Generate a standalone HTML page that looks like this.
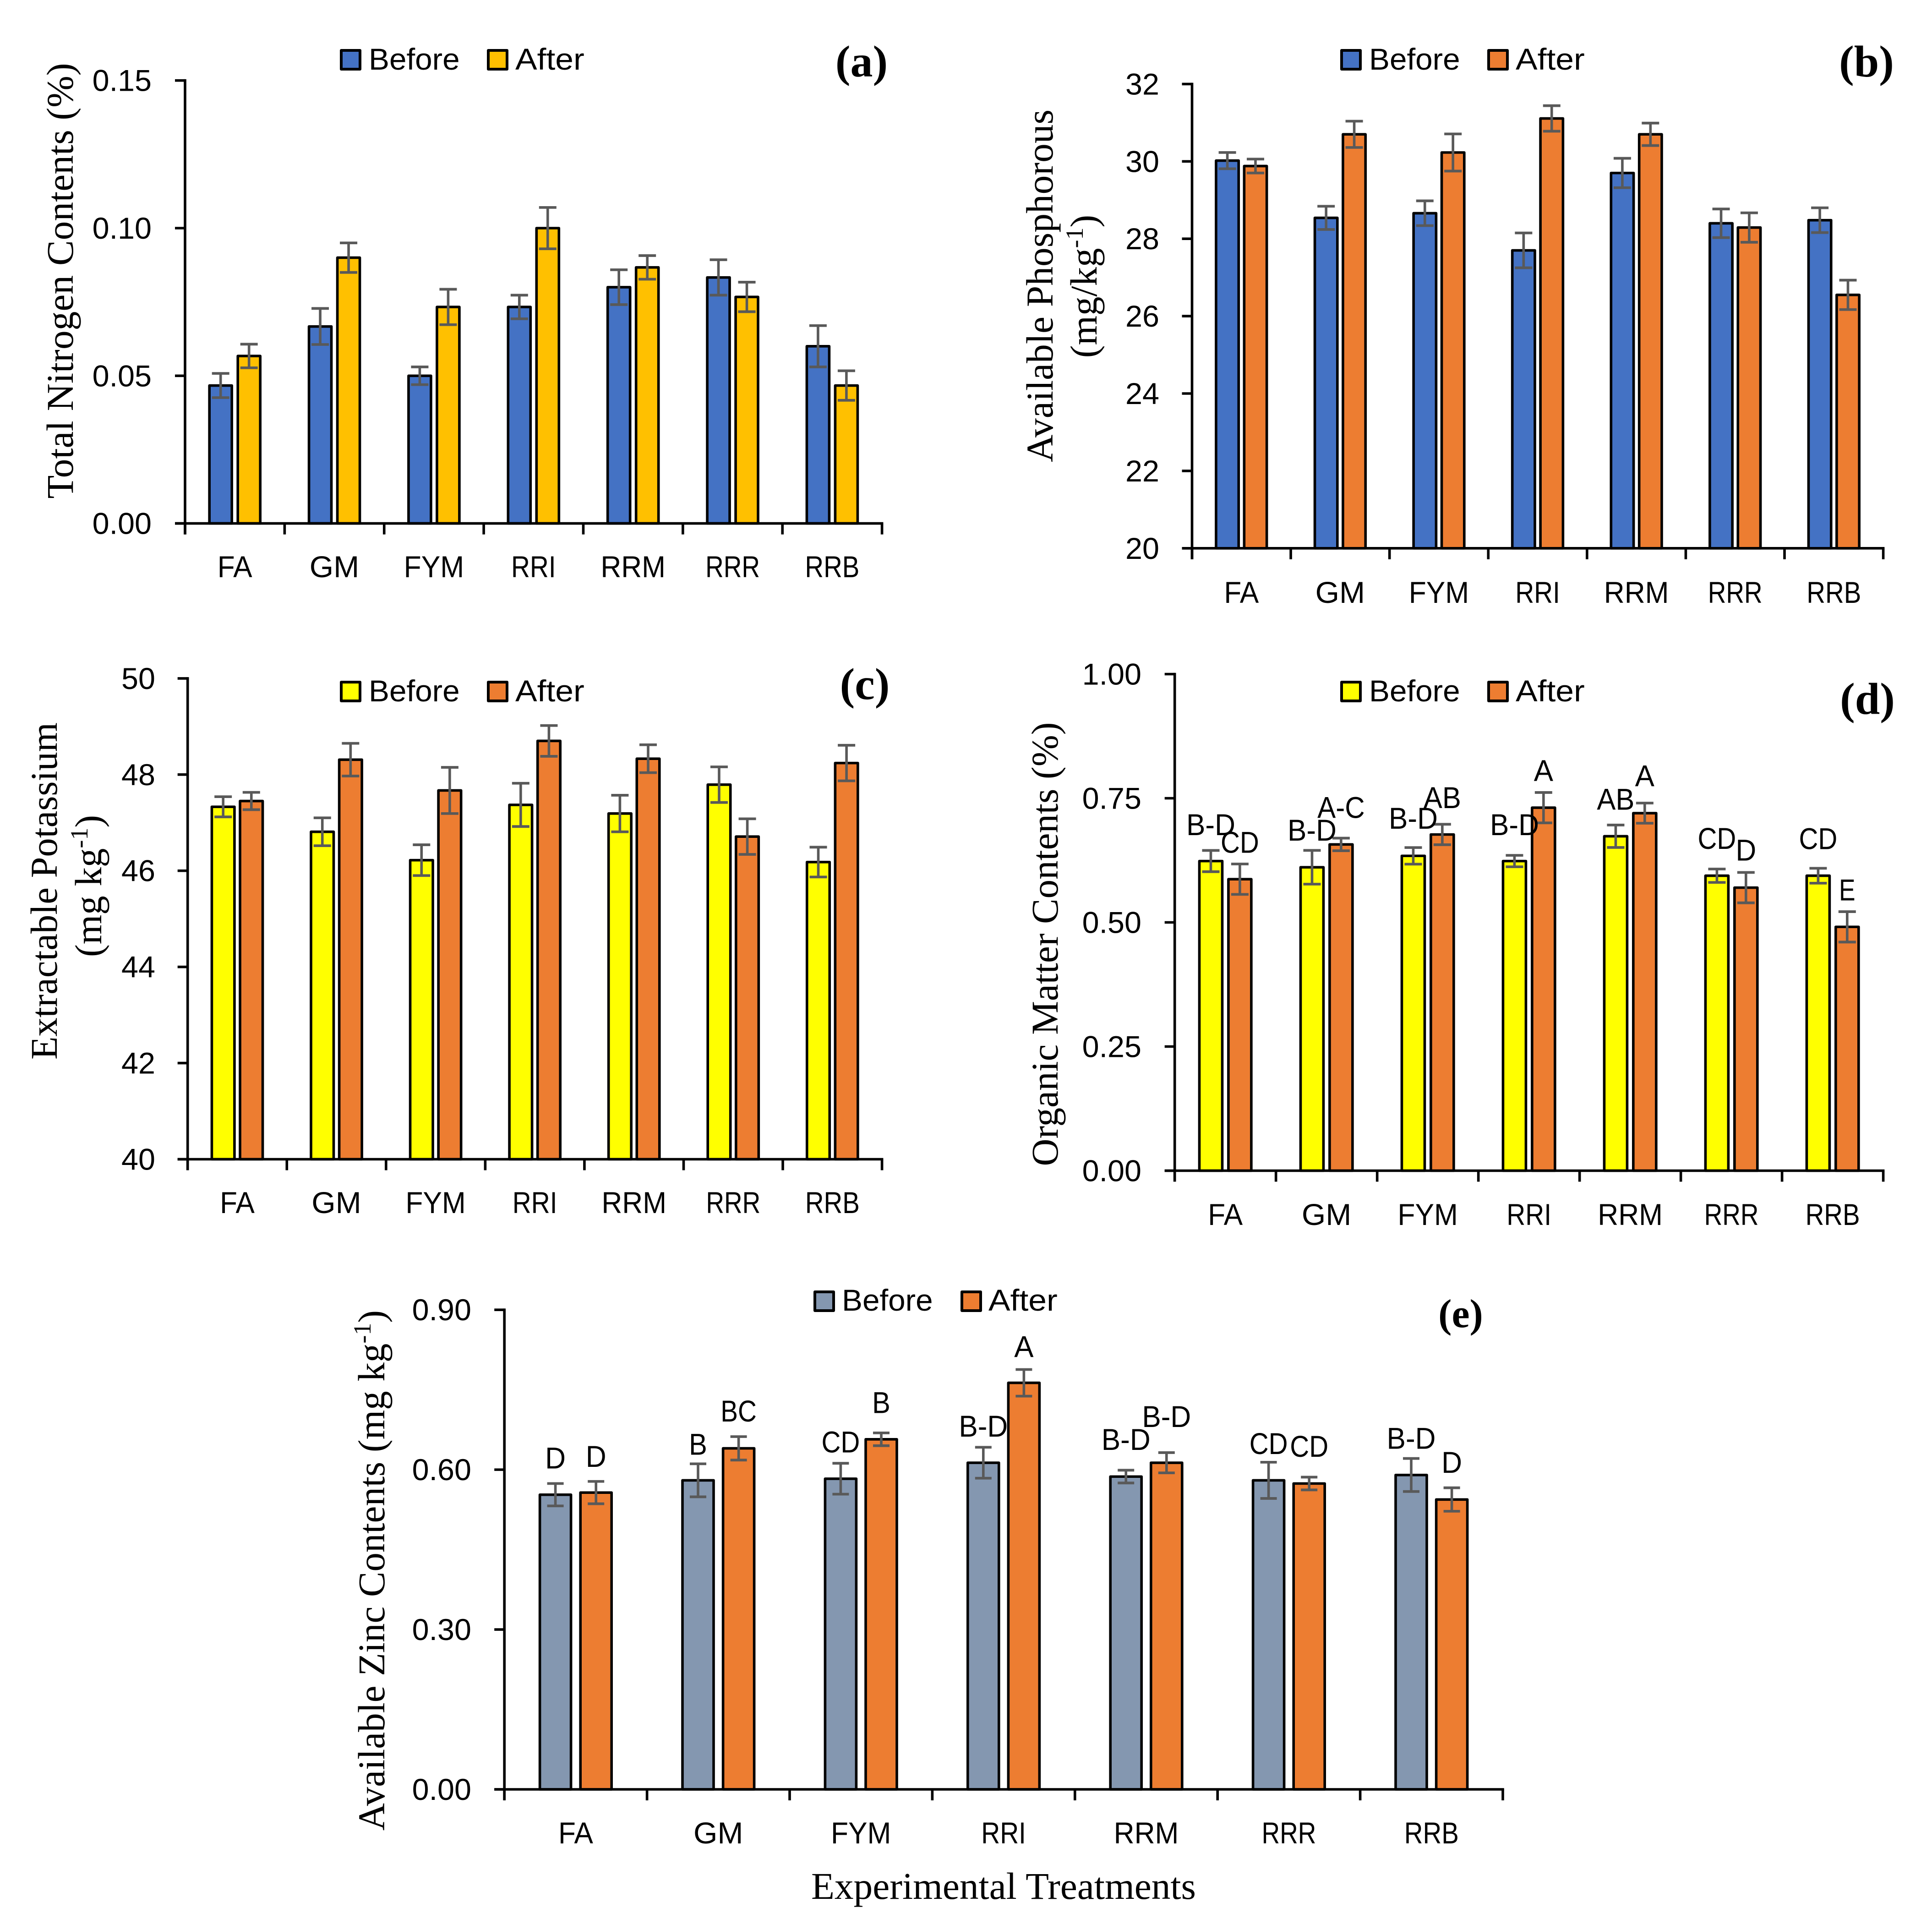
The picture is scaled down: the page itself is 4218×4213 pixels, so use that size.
<!DOCTYPE html>
<html lang="en">
<head>
<meta charset="utf-8">
<title>Soil properties before and after treatments</title>
<style>
html,body{margin:0;padding:0;background:#fff;width:4218px;height:4213px;overflow:hidden}
svg{display:block}
.serif{font-family:"Liberation Serif",serif;fill:#000}
.sans{font-family:"Liberation Sans",sans-serif;fill:#000}
</style>
</head>
<body>
<svg id="figure" xmlns="http://www.w3.org/2000/svg" width="4218" height="4213" viewBox="0 0 4218 4213">
<rect x="0" y="0" width="4218" height="4213" fill="#ffffff"/>

<text class="serif" font-size="83" text-anchor="middle" textLength="951" lengthAdjust="spacingAndGlyphs" transform="translate(159,613) rotate(-90)">Total Nitrogen Contents (%)</text>
<text class="serif" font-size="83" text-anchor="middle" textLength="770" lengthAdjust="spacingAndGlyphs" transform="translate(2298,624) rotate(-90)">Available Phosphorous</text>
<text class="serif" font-size="83" text-anchor="middle" transform="translate(2394,625) rotate(-90)">(mg/kg<tspan font-size="54" dy="-30">-1</tspan><tspan dy="30">)</tspan></text>
<text class="serif" font-size="83" text-anchor="middle" textLength="736" lengthAdjust="spacingAndGlyphs" transform="translate(124,1945) rotate(-90)">Extractable Potassium</text>
<text class="serif" font-size="83" text-anchor="middle" transform="translate(221,1934) rotate(-90)">(mg kg<tspan font-size="54" dy="-30">-1</tspan><tspan dy="30">)</tspan></text>
<text class="serif" font-size="83" text-anchor="middle" textLength="969" lengthAdjust="spacingAndGlyphs" transform="translate(2309,2061) rotate(-90)">Organic Matter Contents (%)</text>
<text class="serif" font-size="83" text-anchor="middle" transform="translate(839,3428) rotate(-90)">Available Zinc Contents (mg kg<tspan font-size="54" dy="-30">-1</tspan><tspan dy="30">)</tspan></text>
<text class="serif" font-size="83" text-anchor="middle" textLength="840" lengthAdjust="spacingAndGlyphs" x="2191" y="4145">Experimental Treatments</text>

<text class="serif" font-size="98" font-weight="bold" text-anchor="middle" x="1881" y="167">(a)</text>
<text class="serif" font-size="98" font-weight="bold" text-anchor="middle" x="4075" y="167">(b)</text>
<text class="serif" font-size="98" font-weight="bold" text-anchor="middle" x="1888" y="1526">(c)</text>
<text class="serif" font-size="98" font-weight="bold" text-anchor="middle" x="4077" y="1558">(d)</text>
<text class="serif" font-size="88" font-weight="bold" text-anchor="middle" x="3189" y="2897">(e)</text>
</svg>

<script>
const categories = ['FA', 'GM', 'FYM', 'RRI', 'RRM', 'RRR', 'RRB'];

const nitrogenTicks = ['0.00', '0.05', '0.10', '0.15'];
const nitrogenBefore = [0.0467, 0.0667, 0.05, 0.0733, 0.08, 0.0833, 0.06];
const nitrogenAfter = [0.0567, 0.09, 0.0733, 0.10, 0.0867, 0.0767, 0.0467];
const nitrogenBeforeErr = [0.0041, 0.0061, 0.003, 0.004, 0.0059, 0.006, 0.007];
const nitrogenAfterErr = [0.004, 0.005, 0.006, 0.007, 0.004, 0.005, 0.005];

const phosphorusTicks = ['20', '22', '24', '26', '28', '30', '32'];
const phosphorusBefore = [30.02, 28.54, 28.66, 27.7, 29.7, 28.4, 28.48];
const phosphorusAfter = [29.88, 30.7, 30.23, 31.11, 30.7, 28.29, 26.55];
const phosphorusBeforeErr = [0.21, 0.3, 0.32, 0.45, 0.38, 0.37, 0.32];
const phosphorusAfterErr = [0.18, 0.34, 0.48, 0.33, 0.29, 0.38, 0.38];

const potassiumTicks = ['40', '42', '44', '46', '48', '50'];
const potassiumBefore = [47.33, 46.81, 46.22, 47.37, 47.19, 47.79, 46.18];
const potassiumAfter = [47.45, 48.31, 47.67, 48.7, 48.33, 46.71, 48.24];
const potassiumBeforeErr = [0.21, 0.29, 0.32, 0.45, 0.38, 0.37, 0.31];
const potassiumAfterErr = [0.18, 0.34, 0.48, 0.32, 0.29, 0.37, 0.37];

const organicTicks = ['0.00', '0.25', '0.50', '0.75', '1.00'];
const organicBefore = [0.6235, 0.611, 0.634, 0.6235, 0.6735, 0.594, 0.594];
const organicAfter = [0.587, 0.657, 0.677, 0.731, 0.72, 0.57, 0.491];
const organicBeforeErr = [0.0214, 0.034, 0.0167, 0.0115, 0.0226, 0.0135, 0.015];
const organicAfterErr = [0.0306, 0.0127, 0.0206, 0.0306, 0.0203, 0.0306, 0.0306];
const organicBeforeLetters = ['B-D', 'B-D', 'B-D', 'B-D', 'AB', 'CD', 'CD'];
const organicAfterLetters = ['CD', 'A-C', 'AB', 'A', 'A', 'D', 'E'];
const organicBeforeLetterGap = [0.052, 0.041, 0.059, 0.062, 0.052, 0.062, 0.060];
const organicAfterLetterGap = [0.044, 0.062, 0.054, 0.044, 0.055, 0.045, 0.044];

const zincTicks = ['0.00', '0.30', '0.60', '0.90'];
const zincBefore = [0.553, 0.58, 0.583, 0.613, 0.587, 0.58, 0.59];
const zincAfter = [0.557, 0.64, 0.657, 0.763, 0.613, 0.574, 0.544];
const zincBeforeErr = [0.021, 0.031, 0.029, 0.029, 0.012, 0.034, 0.031];
const zincAfterErr = [0.021, 0.022, 0.012, 0.025, 0.019, 0.012, 0.022];
const zincBeforeLetters = ['D', 'B', 'CD', 'B-D', 'B-D', 'CD', 'B-D'];
const zincAfterLetters = ['D', 'BC', 'B', 'A', 'B-D', 'CD', 'D'];
const zincBeforeLetterGap = [0.048, 0.037, 0.040, 0.040, 0.058, 0.035, 0.038];
const zincAfterLetterGap = [0.047, 0.048, 0.057, 0.043, 0.068, 0.058, 0.048];

const SVG_NS = 'http://www.w3.org/2000/svg';
const figure = document.getElementById('figure');
const AXIS_W = 5.6;
const ERR_COLOR = '#595959';

const advance = {'0':.507,'1':.507,'2':.507,'3':.507,'4':.507,'5':.507,'6':.507,'7':.507,'8':.507,'9':.507,
  '.':.252,'-':.306,F:.459,A:.579,G:.631,M:.855,Y:.487,R:.543,I:.252,B:.544,D:.615,C:.533,E:.488,
  e:.498,f:.305,o:.527,r:.349,t:.335};
function labelWidth(s) {
  let w = 0;
  for (const c of s) w += advance[c] || 0.5;
  return w * 73;
}
function line(parent, x1, y1, x2, y2, color, width) {
  const el = document.createElementNS(SVG_NS, 'line');
  el.setAttribute('x1', x1);
  el.setAttribute('y1', y1);
  el.setAttribute('x2', x2);
  el.setAttribute('y2', y2);
  el.setAttribute('stroke', color);
  el.setAttribute('stroke-width', width);
  parent.appendChild(el);
  return el;
}
function label(parent, s, x, baseline, anchor) {
  const el = document.createElementNS(SVG_NS, 'text');
  el.setAttribute('class', 'sans');
  el.setAttribute('font-size', 66);
  el.setAttribute('x', x);
  el.setAttribute('y', baseline);
  el.setAttribute('text-anchor', anchor);
  el.setAttribute('textLength', labelWidth(s).toFixed(1));
  el.setAttribute('lengthAdjust', 'spacingAndGlyphs');
  el.textContent = s;
  parent.appendChild(el);
  return el;
}
function box(parent, x, y, w, h, fill) {
  const el = document.createElementNS(SVG_NS, 'rect');
  el.setAttribute('x', x);
  el.setAttribute('y', y);
  el.setAttribute('width', w);
  el.setAttribute('height', h);
  el.setAttribute('fill', fill);
  el.setAttribute('stroke', '#000000');
  el.setAttribute('stroke-width', AXIS_W);
  el.setAttribute('stroke-linejoin', 'round');
  parent.appendChild(el);
  return el;
}

function drawPanel(p) {
  const g = document.createElementNS(SVG_NS, 'g');
  
  
  figure.appendChild(g);

  const tickValues = p.ticks.map(Number);
  const yMin = tickValues[0];
  const yMax = tickValues[tickValues.length - 1];
  const yScale = v => p.yBottom - (v - yMin) / (yMax - yMin) * (p.yBottom - p.yTop);
  const step = (p.xRight - p.xLeft) / categories.length;
  const xCenter = i => p.xLeft + step * (i + 0.5);

  const drawSeries = (values, fill, dir, seriesName) => {
    values.forEach((v, i) => {
      const cx = xCenter(i) + dir * p.offset;
      const top = yScale(v);
      const bar = box(g, cx - p.barW / 2, top, p.barW, p.yBottom - top, fill);
      
      
    });
  };
  const drawErrors = (values, errs, dir, seriesName) => {
    values.forEach((v, i) => {
      const cx = xCenter(i) + dir * p.offset;
      const hi = yScale(v + errs[i]);
      const lo = yScale(v - errs[i]);
      const eg = document.createElementNS(SVG_NS, 'g');
      
      
      g.appendChild(eg);
      line(eg, cx, hi, cx, lo, ERR_COLOR, 5.6);
      line(eg, cx - p.cap / 2, hi, cx + p.cap / 2, hi, ERR_COLOR, 5.8);
      line(eg, cx - p.cap / 2, lo, cx + p.cap / 2, lo, ERR_COLOR, 5.8);
    });
  };
  const drawLetters = (values, errs, letters, gaps, dir, seriesName) => {
    letters.forEach((s, i) => {
      const cx = xCenter(i) + dir * p.offset;
      const t = label(g, s, cx, yScale(values[i] + errs[i] + gaps[i]) + 23, 'middle');
      
      
    });
  };

  drawSeries(p.before, p.beforeColor, -1, 'before');
  drawSeries(p.after, p.afterColor, 1, 'after');

  const yAxis = line(g, p.xLeft, p.yTop - AXIS_W / 2, p.xLeft, p.yBottom + 24, '#000000', AXIS_W);
  
  
  const xAxis = line(g, p.xLeft - 22, p.yBottom, p.xRight + AXIS_W / 2, p.yBottom, '#000000', AXIS_W);
  
  

  p.ticks.forEach(t => {
    const y = yScale(Number(t));
    const tick = line(g, p.xLeft - 22, y, p.xLeft, y, '#000000', AXIS_W);
    
    
    const tl = label(g, t, p.labelRight, y + 23, 'end');
    
    
  });
  for (let i = 0; i <= categories.length; i++) {
    const x = p.xLeft + step * i;
    const tick = line(g, x, p.yBottom, x, p.yBottom + 24, '#000000', AXIS_W);
    
    
  }
  categories.forEach((c, i) => {
    const tl = label(g, c, xCenter(i), p.catBaseline, 'middle');
    
    
  });

  drawErrors(p.before, p.beforeErr, -1, 'before');
  drawErrors(p.after, p.afterErr, 1, 'after');
  if (p.beforeLetters) {
    drawLetters(p.before, p.beforeErr, p.beforeLetters, p.beforeGap, -1, 'before');
    drawLetters(p.after, p.afterErr, p.afterLetters, p.afterGap, 1, 'after');
  }

  const legend = document.createElementNS(SVG_NS, 'g');
  
  
  g.appendChild(legend);
  const sw1 = box(legend, p.legend.x1, p.legend.y, p.legend.w, p.legend.h, p.beforeColor);
  sw1.setAttribute('stroke-width', 6);
  
  
  const t1 = label(legend, 'Before', p.legend.t1, p.legend.base, 'start');
  
  
  const sw2 = box(legend, p.legend.x2, p.legend.y, p.legend.w, p.legend.h, p.afterColor);
  sw2.setAttribute('stroke-width', 6);
  
  
  const t2 = label(legend, 'After', p.legend.t2, p.legend.base, 'start');
  
  
}

drawPanel({
  id: 'a', ticks: nitrogenTicks, before: nitrogenBefore, after: nitrogenAfter,
  beforeErr: nitrogenBeforeErr, afterErr: nitrogenAfterErr,
  beforeColor: '#4472C4', afterColor: '#FFC000',
  xLeft: 404, xRight: 1925.6, yBottom: 1142.6, yTop: 175.7,
  barW: 49, offset: 31, cap: 38, labelRight: 331, catBaseline: 1260,
  legend: {x1: 745, x2: 1066, y: 110, w: 41, h: 41, t1: 805, t2: 1125, base: 152}
});
drawPanel({
  id: 'b', ticks: phosphorusTicks, before: phosphorusBefore, after: phosphorusAfter,
  beforeErr: phosphorusBeforeErr, afterErr: phosphorusAfterErr,
  beforeColor: '#4472C4', afterColor: '#ED7D31',
  xLeft: 2602.5, xRight: 4111.6, yBottom: 1196.8, yTop: 183.4,
  barW: 49.3, offset: 30.7, cap: 38, labelRight: 2531, catBaseline: 1316,
  legend: {x1: 2929, x2: 3250, y: 110, w: 41, h: 41, t1: 2989, t2: 3309, base: 152}
});
drawPanel({
  id: 'c', ticks: potassiumTicks, before: potassiumBefore, after: potassiumAfter,
  beforeErr: potassiumBeforeErr, afterErr: potassiumAfterErr,
  beforeColor: '#FFFF00', afterColor: '#ED7D31',
  xLeft: 409.7, xRight: 1925.6, yBottom: 2530.5, yTop: 1480.9,
  barW: 49.5, offset: 30.8, cap: 38, labelRight: 339, catBaseline: 2648,
  legend: {x1: 745, x2: 1066, y: 1489, w: 41, h: 41, t1: 805, t2: 1125, base: 1531}
});
drawPanel({
  id: 'd', ticks: organicTicks, before: organicBefore, after: organicAfter,
  beforeErr: organicBeforeErr, afterErr: organicAfterErr,
  beforeColor: '#FFFF00', afterColor: '#ED7D31',
  beforeLetters: organicBeforeLetters, afterLetters: organicAfterLetters,
  beforeGap: organicBeforeLetterGap, afterGap: organicAfterLetterGap,
  xLeft: 2564.7, xRight: 4111.6, yBottom: 2555.5, yTop: 1471.5,
  barW: 50, offset: 31.7, cap: 38, labelRight: 2492, catBaseline: 2674,
  legend: {x1: 2929, x2: 3250, y: 1489, w: 41, h: 41, t1: 2989, t2: 3309, base: 1531}
});
drawPanel({
  id: 'e', ticks: zincTicks, before: zincBefore, after: zincAfter,
  beforeErr: zincBeforeErr, afterErr: zincAfterErr,
  beforeColor: '#8497B0', afterColor: '#ED7D31',
  beforeLetters: zincBeforeLetters, afterLetters: zincAfterLetters,
  beforeGap: zincBeforeLetterGap, afterGap: zincAfterLetterGap,
  xLeft: 1101.2, xRight: 3281, yBottom: 3906, yTop: 2859.2,
  barW: 68, offset: 44.3, cap: 36, labelRight: 1029, catBaseline: 4024,
  legend: {x1: 1779, x2: 2100, y: 2820, w: 41, h: 41, t1: 1838, t2: 2158, base: 2861}
});
</script>
</body>
</html>
